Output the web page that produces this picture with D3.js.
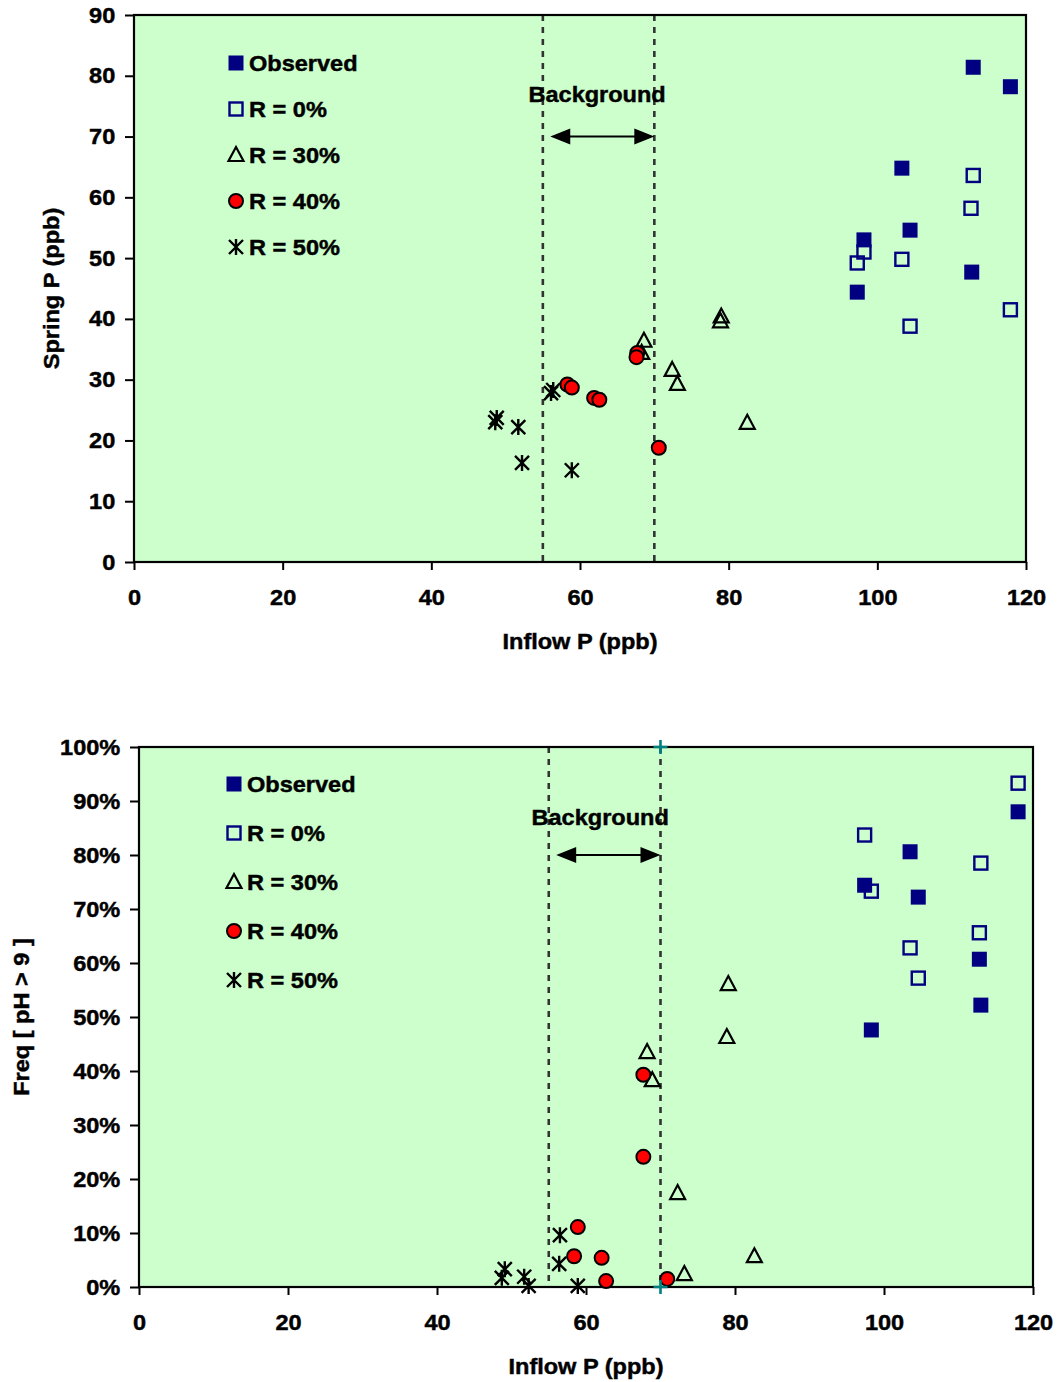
<!DOCTYPE html>
<html>
<head>
<meta charset="utf-8">
<script src="https://cdn.jsdelivr.net/npm/d3@7"></script>
<style>
  html, body { margin: 0; padding: 0; background: #fff; }
  svg { display: block; }
  text { font-family: "Liberation Sans", Arial, sans-serif; font-weight: bold; fill: #000; stroke: #000; stroke-width: 0.45px; }
</style>
</head>
<body>
<svg id="chart" width="1057" height="1382"></svg>
<script>
// ---------- DATA ----------
const seriesNames = ["Observed", "R = 0%", "R = 30%", "R = 40%", "R = 50%"];
const xTicks = [0, 20, 40, 60, 80, 100, 120];
const topYTicks = [0, 10, 20, 30, 40, 50, 60, 70, 80, 90];
const botYTicks = [0, 0.1, 0.2, 0.3, 0.4, 0.5, 0.6, 0.7, 0.8, 0.9, 1.0];
const backgroundRange = [55, 70];

// Top chart: Spring P (ppb) vs Inflow P (ppb)
const topObserved = [[112.9, 81.4], [117.9, 78.2], [103.3, 64.8], [104.4, 54.6], [98.2, 53.0], [97.3, 44.4], [112.7, 47.7]];
const topR0 = [[112.9, 63.6], [112.6, 58.2], [98.2, 51.0], [97.3, 49.2], [103.3, 49.8], [104.4, 38.8], [117.9, 41.5]];
const topR30 = [[79.0, 40.4], [78.9, 39.6], [68.6, 36.4], [68.3, 34.4], [72.4, 31.6], [73.1, 29.3], [82.5, 22.9]];
const topR40 = [[67.7, 34.4], [67.6, 33.7], [58.3, 29.2], [58.9, 28.7], [61.9, 27.0], [62.6, 26.7], [70.6, 18.8]];
const topR50 = [[56.4, 28.3], [56.1, 27.8], [48.8, 23.7], [48.6, 23.0], [51.7, 22.2], [52.2, 16.3], [58.9, 15.1]];

// Bottom chart: Freq [pH > 9] vs Inflow P (ppb)
const botObserved = [[118.0, 0.880], [103.5, 0.806], [97.4, 0.744], [104.6, 0.722], [112.8, 0.607], [113.0, 0.522], [98.3, 0.476]];
const botR0 = [[118.0, 0.933], [97.4, 0.837], [113.0, 0.785], [98.3, 0.733], [112.8, 0.656], [103.5, 0.628], [104.6, 0.572]];
const botR30 = [[79.1, 0.561], [78.9, 0.463], [68.2, 0.435], [68.9, 0.383], [72.3, 0.174], [82.6, 0.057], [73.2, 0.024]];
const botR40 = [[67.7, 0.393], [67.7, 0.241], [58.9, 0.111], [58.4, 0.057], [62.1, 0.054], [62.7, 0.011], [70.9, 0.015]];
const botR50 = [[56.5, 0.096], [56.4, 0.043], [49.1, 0.033], [48.7, 0.017], [51.7, 0.019], [52.3, 0.002], [58.9, 0.002]];
const botBoundMarks = [[70, 1.0], [70, 0.0]];

// ---------- DRAWING ----------
const svg = d3.select("#chart");
const SX = 1.07;      // horizontal stretch of the original's text
const FS = 22;        // font size

const NAVY = "#000080", RED = "#ff0000", BG = "#ccffcc";

function drawMarker(g, type, x, y) {
  if (type === 0) {
    g.append("rect").attr("x", x - 7.5).attr("y", y - 7.5).attr("width", 15).attr("height", 15)
      .attr("fill", NAVY);
  } else if (type === 1) {
    g.append("rect").attr("x", x - 6.5).attr("y", y - 6.5).attr("width", 13).attr("height", 13)
      .attr("fill", "none").attr("stroke", NAVY).attr("stroke-width", 2.4);
  } else if (type === 2) {
    g.append("path").attr("d", `M${x},${y - 8} L${x + 7.5},${y + 6} L${x - 7.5},${y + 6} Z`)
      .attr("fill", "none").attr("stroke", "#000").attr("stroke-width", 2.2).attr("stroke-linejoin", "miter");
  } else if (type === 3) {
    g.append("circle").attr("cx", x).attr("cy", y).attr("r", 7)
      .attr("fill", RED).attr("stroke", "#000").attr("stroke-width", 2);
  } else if (type === 4) {
    const a = 7, b = 7;
    g.append("path").attr("d",
      `M${x},${y - 8} L${x},${y + 8} M${x - b},${y - a} L${x + b},${y + a} M${x + b},${y - a} L${x - b},${y + a}`)
      .attr("stroke", "#000").attr("stroke-width", 2.4).attr("fill", "none");
  }
}

function drawChart(cfg) {
  const { left, top, width, height, yDomain, yTicks, yFormat, series, legendX, legendY0, legendStep,
          yTitle, yTitleX, xTitleY, bgLabel, arrowY, boundMarks } = cfg;
  const x = d3.scaleLinear().domain([0, 120]).range([left, left + width]);
  const y = d3.scaleLinear().domain(yDomain).range([top + height, top]);
  const g = svg.append("g");

  // plot area
  g.append("rect").attr("x", left).attr("y", top).attr("width", width).attr("height", height)
    .attr("fill", BG);

  // background dashed lines
  backgroundRange.forEach(v => {
    g.append("line").attr("x1", x(v)).attr("x2", x(v)).attr("y1", y(yDomain[1])).attr("y2", y(yDomain[0]))
      .attr("stroke", "#333").attr("stroke-width", 2.6).attr("stroke-dasharray", "6,6");
  });

  // axes
  const xAxis = d3.axisBottom(x).tickValues(xTicks).tickSize(8).tickFormat(d3.format("d"));
  const gx = g.append("g").attr("transform", `translate(0,${top + height})`).call(xAxis);
  const yAxis = d3.axisLeft(y).tickValues(yTicks).tickSize(9).tickFormat(yFormat);
  const gy = g.append("g").attr("transform", `translate(${left},0)`).call(yAxis);
  [gx, gy].forEach(ax => {
    ax.select(".domain").remove();
    ax.selectAll(".tick line").attr("stroke", "#000").attr("stroke-width", 2);
    ax.selectAll(".tick text").attr("font-size", FS).attr("font-family", "Liberation Sans, Arial, sans-serif")
      .attr("font-weight", "bold").attr("fill", "#000");
  });
  gx.selectAll(".tick text").attr("y", 27).attr("transform", `scale(${SX},1)`);
  gy.selectAll(".tick text").attr("x", -17.5).attr("transform", `scale(${SX},1)`);

  // frame
  g.append("rect").attr("x", left).attr("y", top).attr("width", width).attr("height", height)
    .attr("fill", "none").attr("stroke", "#000").attr("stroke-width", 2.2);

  // background annotation
  g.append("text").attr("text-anchor", "middle").attr("font-size", FS)
    .attr("transform", `translate(${x(bgLabel[0])},${y(bgLabel[1])}) scale(${SX},1)`)
    .text("Background");
  const ax1 = x(56), ax2 = x(70), ay = y(arrowY);
  g.append("line").attr("x1", ax1 + 15).attr("x2", ax2 - 15).attr("y1", ay).attr("y2", ay)
    .attr("stroke", "#000").attr("stroke-width", 2);
  g.append("path").attr("d", `M${ax1},${ay} L${ax1 + 20},${ay - 8} L${ax1 + 20},${ay + 8} Z`).attr("fill", "#000");
  g.append("path").attr("d", `M${ax2},${ay} L${ax2 - 20},${ay - 8} L${ax2 - 20},${ay + 8} Z`).attr("fill", "#000");

  // series markers
  series.forEach((data, si) => {
    const sg = g.append("g");
    data.forEach(d => drawMarker(sg, si, x(d[0]), y(d[1])));
  });

  if (boundMarks) {
    boundMarks.forEach(d => {
      const px = x(d[0]), py = y(d[1]);
      g.append("path").attr("d", `M${px - 7},${py} L${px + 7},${py} M${px},${py - 7} L${px},${py + 7}`)
        .attr("stroke", "#008080").attr("stroke-width", 2.6);
    });
  }

  // legend
  seriesNames.forEach((name, i) => {
    const ly = legendY0 + i * legendStep;
    drawMarker(g, i, legendX, ly);
    g.append("text").attr("font-size", FS)
      .attr("transform", `translate(${legendX + 13},${ly + 8}) scale(${SX},1)`)
      .text(name);
  });

  // axis titles
  g.append("text").attr("text-anchor", "middle").attr("font-size", FS)
    .attr("transform", `translate(${left + width / 2},${xTitleY}) scale(${SX},1)`)
    .text("Inflow P (ppb)");
  g.append("text").attr("text-anchor", "middle").attr("font-size", FS)
    .attr("transform", `translate(${yTitleX},${top + height / 2}) rotate(-90) scale(${SX},1)`)
    .text(yTitle);
}

drawChart({
  left: 134, top: 15, width: 892, height: 547,
  yDomain: [0, 90], yTicks: topYTicks, yFormat: d3.format("d"),
  series: [topObserved, topR0, topR30, topR40, topR50],
  legendX: 236, legendY0: 63, legendStep: 46,
  yTitle: "Spring P (ppb)", yTitleX: 59, xTitleY: 649,
  bgLabel: [62.3, 75.7], arrowY: 70
});

drawChart({
  left: 139, top: 747, width: 894, height: 540,
  yDomain: [0, 1], yTicks: botYTicks, yFormat: d3.format(".0%"),
  series: [botObserved, botR0, botR30, botR40, botR50],
  legendX: 234, legendY0: 784, legendStep: 49,
  yTitle: "Freq [ pH > 9 ]", yTitleX: 29, xTitleY: 1374,
  bgLabel: [61.9, 0.856], arrowY: 0.80, boundMarks: botBoundMarks
});
</script>
</body>
</html>
